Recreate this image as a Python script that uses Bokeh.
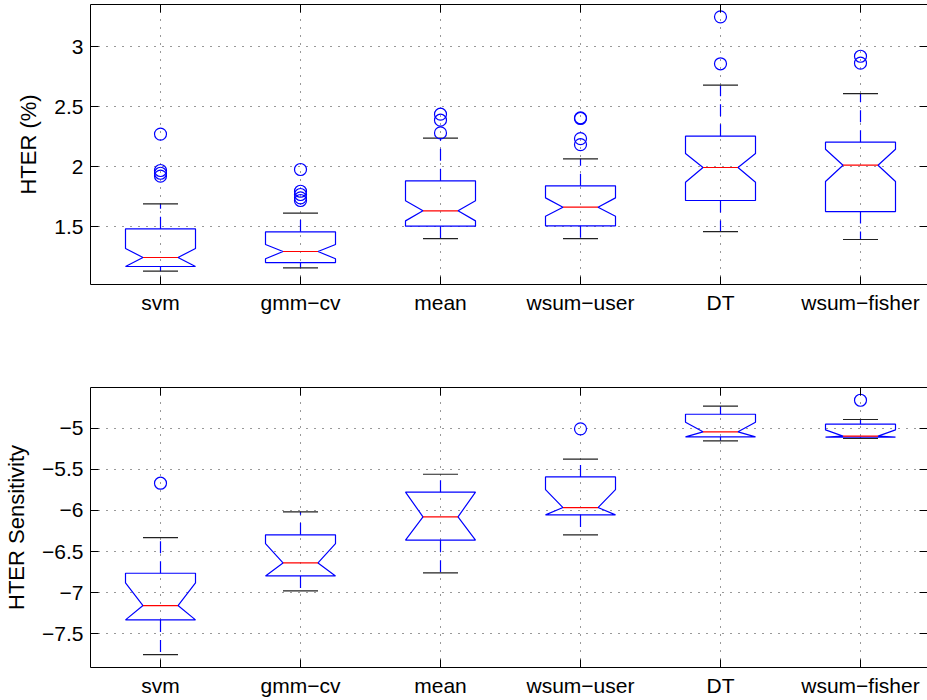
from bokeh.plotting import figure
from bokeh.models import Range1d, LinearAxis, FixedTicker, CustomJSTickFormatter
from bokeh.layouts import column
from bokeh.embed import file_html
from bokeh.resources import INLINE

methods = ["svm", "gmm\u2212cv", "mean", "wsum\u2212user", "DT", "wsum\u2212fisher"]
positions = [1, 2, 3, 4, 5, 6]

# HTER (%) box statistics per method
hter_whisker_lo = [1.128, 1.156, 1.400, 1.400, 1.458, 1.392]
hter_q1 = [1.167, 1.200, 1.503, 1.506, 1.717, 1.625]
hter_notch_lo = [1.167, 1.231, 1.547, 1.586, 1.869, 1.875]
hter_median = [1.242, 1.292, 1.631, 1.661, 1.992, 2.011]
hter_notch_hi = [1.317, 1.350, 1.714, 1.739, 2.108, 2.144]
hter_q3 = [1.481, 1.456, 1.881, 1.839, 2.253, 2.203]
hter_whisker_hi = [1.689, 1.611, 2.236, 2.064, 2.678, 2.608]
hter_outliers = [
    [2.270, 1.967, 1.944, 1.920],
    [1.975, 1.794, 1.767, 1.739, 1.717],
    [2.280, 2.386, 2.436],
    [2.183, 2.233, 2.400, 2.406],
    [2.856, 3.247],
    [2.861, 2.919],
]
hter_ticks = [1.5, 2, 2.5, 3]

# HTER sensitivity box statistics per method
sens_whisker_lo = [-7.753, -6.979, -6.759, -6.297, -5.154, -5.125]
sens_q1 = [-7.331, -6.796, -6.362, -6.054, -5.105, -5.109]
sens_notch_lo = [-7.331, -6.796, -6.362, -6.054, -5.105, -5.109]
sens_median = [-7.157, -6.638, -6.078, -5.965, -5.044, -5.097]
sens_notch_hi = [-6.881, -6.403, -5.778, -5.746, -4.927, -5.020]
sens_q3 = [-6.764, -6.297, -5.778, -5.592, -4.830, -4.951]
sens_whisker_hi = [-6.330, -6.017, -5.560, -5.377, -4.732, -4.894]
sens_outliers = [[-5.669], [], [], [-5.008], [], [-4.660]]
sens_ticks = [-7.5, -7, -6.5, -6, -5.5, -5]

FONT = "Liberation Sans"
BLUE = "#0000ff"
RED = "#ff0000"

num_fmt = CustomJSTickFormatter(code="return tick < 0 ? '\u2212' + String(-tick) : String(tick);")
cat_fmt = CustomJSTickFormatter(args=dict(labels=methods),
                                code="return labels[Math.round(tick) - 1] || '';")


def style_axis(ax, ticks, fmt):
    ax.ticker = FixedTicker(ticks=ticks)
    ax.formatter = fmt
    ax.major_tick_in = 8
    ax.major_tick_out = 0
    ax.minor_tick_in = 0
    ax.minor_tick_out = 0
    ax.major_tick_line_color = "black"
    ax.axis_line_color = "black"
    ax.axis_line_width = 1
    ax.major_label_text_font = FONT
    ax.major_label_text_font_size = "21px"
    ax.major_label_text_color = "black"


def tick_only_axis(ticks):
    # frame edge carrying inward ticks but no labels
    ax = LinearAxis(ticker=FixedTicker(ticks=ticks),
                    major_label_text_font_size="0px", major_label_standoff=0)
    ax.formatter = CustomJSTickFormatter(code="return '';")
    ax.major_tick_in = 8
    ax.major_tick_out = 0
    ax.minor_tick_in = 0
    ax.minor_tick_out = 0
    ax.major_tick_line_color = "black"
    ax.axis_line_color = "black"
    ax.major_label_text_alpha = 0
    return ax


def panel(ylabel, yr, yticks, stats, outliers, height, top, bottom):
    wlo, q1, nlo, med, nhi, q3, whi = stats
    p = figure(width=927, height=height, output_backend="svg", toolbar_location=None,
               x_range=Range1d(0.5, 0.5 + 837 / 140), y_range=Range1d(*yr),
               min_border_left=90, min_border_right=0,
               min_border_top=top, min_border_bottom=bottom)
    p.outline_line_color = None
    p.background_fill_color = "white"
    p.border_fill_color = "white"

    style_axis(p.xaxis[0], positions, cat_fmt)
    p.xaxis[0].major_label_standoff = 6
    style_axis(p.yaxis[0], yticks, num_fmt)
    p.yaxis[0].major_label_standoff = 7
    p.yaxis[0].axis_label = ylabel
    p.yaxis[0].axis_label_text_font = FONT
    p.yaxis[0].axis_label_text_font_size = "22px"
    p.yaxis[0].axis_label_text_font_style = "normal"
    p.yaxis[0].axis_label_text_color = "black"
    p.yaxis[0].axis_label_standoff = 10

    p.add_layout(tick_only_axis(positions), "above")
    right_ax = tick_only_axis(yticks)
    right_ax.axis_line_color = None
    p.add_layout(right_ax, "right")

    for g, t in ((p.xgrid[0], positions), (p.ygrid[0], yticks)):
        g.ticker = FixedTicker(ticks=t)
        g.grid_line_color = "#333333"
        g.grid_line_dash = "1 7"
        g.grid_line_width = 1

    w, h = 0.25, 0.125
    xs, ys = [], []
    for i, x in enumerate(positions):
        xs.append([x - w, x + w, x + w, x + h, x + w, x + w, x - w, x - w, x - h, x - w])
        ys.append([q3[i], q3[i], nhi[i], med[i], nlo[i], q1[i], q1[i], nlo[i], med[i], nhi[i]])
    p.patches(xs, ys, fill_color=None, line_color=BLUE, line_width=1.2)

    p.segment(x0=positions, y0=q3, x1=positions, y1=whi, line_color=BLUE,
              line_width=1.2, line_dash="12 8")
    p.segment(x0=positions, y0=q1, x1=positions, y1=wlo, line_color=BLUE,
              line_width=1.2, line_dash="12 8")
    p.segment(x0=[x - h for x in positions], y0=whi, x1=[x + h for x in positions], y1=whi,
              line_color="#222222", line_width=1.2)
    p.segment(x0=[x - h for x in positions], y0=wlo, x1=[x + h for x in positions], y1=wlo,
              line_color="#222222", line_width=1.2)
    p.segment(x0=[x - h for x in positions], y0=med, x1=[x + h for x in positions], y1=med,
              line_color=RED, line_width=1.2)

    ox = [x for x, vals in zip(positions, outliers) for _ in vals]
    oy = [v for vals in outliers for v in vals]
    p.scatter(ox, oy, marker="circle", size=12, fill_color=None, line_color=BLUE, line_width=1.2)
    return p


p_top = panel("HTER (%)", (1.017, 3.35), hter_ticks,
              (hter_whisker_lo, hter_q1, hter_notch_lo, hter_median, hter_notch_hi,
               hter_q3, hter_whisker_hi), hter_outliers, 340, 4, 56)
p_bot = panel("HTER Sensitivity", (-7.91, -4.505), sens_ticks,
              (sens_whisker_lo, sens_q1, sens_notch_lo, sens_median, sens_notch_hi,
               sens_q3, sens_whisker_hi), sens_outliers, 360, 47, 33)

layout = column(p_top, p_bot, spacing=0)
open("out.html", "w").write(file_html(layout, INLINE))
